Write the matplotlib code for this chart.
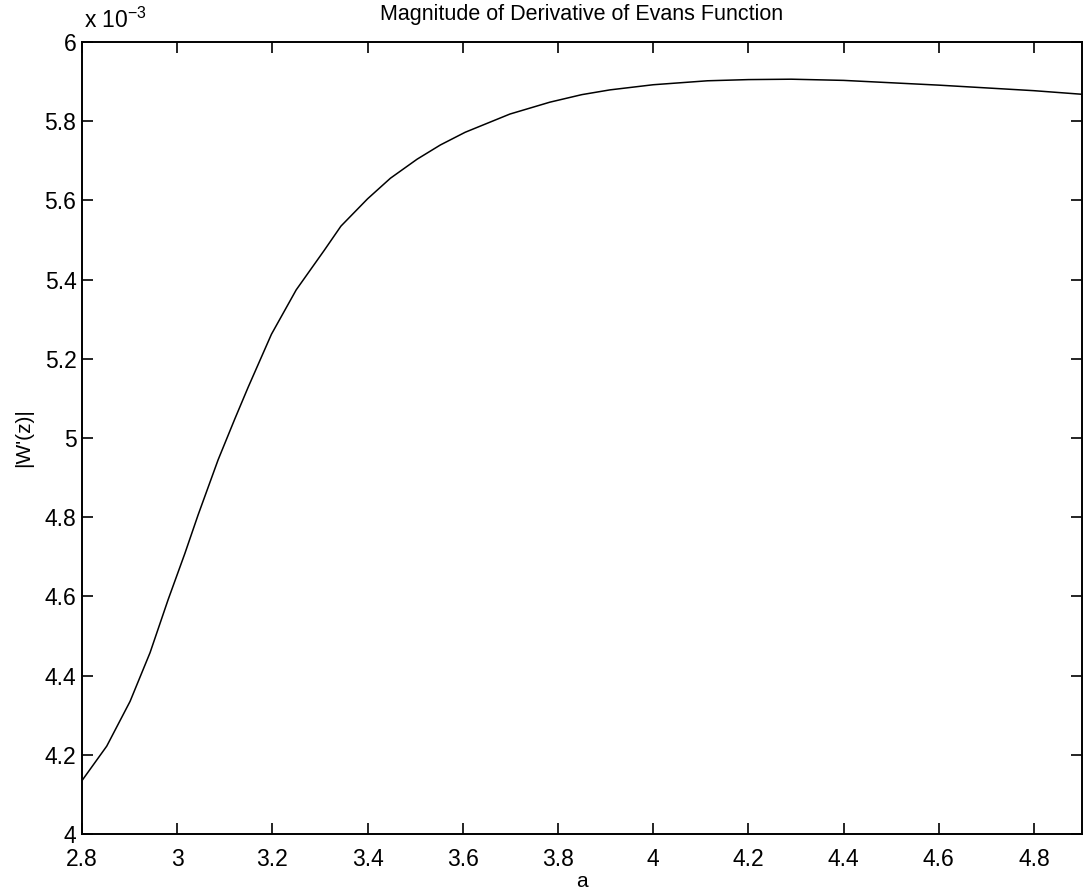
import numpy as np
import matplotlib
matplotlib.use("Agg")
import matplotlib.pyplot as plt
from matplotlib.ticker import FuncFormatter

# Datos (|W'(z)| en unidades de 1e-3)
a_vals = [2.80, 2.852, 2.901, 2.943, 2.981, 3.016, 3.044, 3.086, 3.121, 3.149,
          3.198, 3.250, 3.309, 3.344, 3.400, 3.448, 3.504, 3.553, 3.605, 3.699,
          3.783, 3.850, 3.909, 4.000, 4.114, 4.200, 4.290, 4.400, 4.500, 4.600,
          4.700, 4.800, 4.900]
w_deriv_e3 = [4.135, 4.222, 4.335, 4.458, 4.592, 4.708, 4.806, 4.945, 5.048, 5.128,
              5.262, 5.374, 5.474, 5.535, 5.604, 5.656, 5.704, 5.740, 5.772, 5.818,
              5.848, 5.867, 5.879, 5.892, 5.902, 5.905, 5.906, 5.903, 5.897, 5.891,
              5.884, 5.877, 5.868]

x_ticks = [2.8, 3.0, 3.2, 3.4, 3.6, 3.8, 4.0, 4.2, 4.4, 4.6, 4.8]
y_ticks = [4.0, 4.2, 4.4, 4.6, 4.8, 5.0, 5.2, 5.4, 5.6, 5.8, 6.0]

plt.rcParams['font.family'] = ['Liberation Sans', 'DejaVu Sans']

fig = plt.figure(figsize=(10.83, 8.93), dpi=100)
ax = fig.add_axes([0.0757, 0.066, 0.923, 0.887])

ax.plot(a_vals, w_deriv_e3, color='black', linewidth=1.1)

ax.set_xlim(2.8, 4.9)
ax.set_ylim(4.0, 6.0)
ax.set_xticks(x_ticks)
ax.set_yticks(y_ticks)
fmt = FuncFormatter(lambda v, p: "%g" % round(v, 4))
ax.xaxis.set_major_formatter(fmt)
ax.yaxis.set_major_formatter(fmt)

ax.tick_params(direction='in', length=8, width=1.2, top=True, right=True,
               labelsize=16.5)
ax.tick_params(axis='x', pad=10)
ax.tick_params(axis='y', pad=4)
for lbl in ax.get_yticklabels():
    lbl.set_verticalalignment('center_baseline')
for s in ax.spines.values():
    s.set_linewidth(1.4)

ax.set_title("Magnitude of Derivative of Evans Function", fontsize=15.5, pad=16)
ax.set_xlabel("a", fontsize=15, labelpad=1)
ax.set_ylabel("|W'(z)|", fontsize=15, labelpad=8)

ax.text(0.002, 1.012, r"x 10$^{\mathregular{-3}}$", transform=ax.transAxes,
        fontsize=16.5, ha='left', va='bottom')

fig.savefig("out.png", dpi=100)
